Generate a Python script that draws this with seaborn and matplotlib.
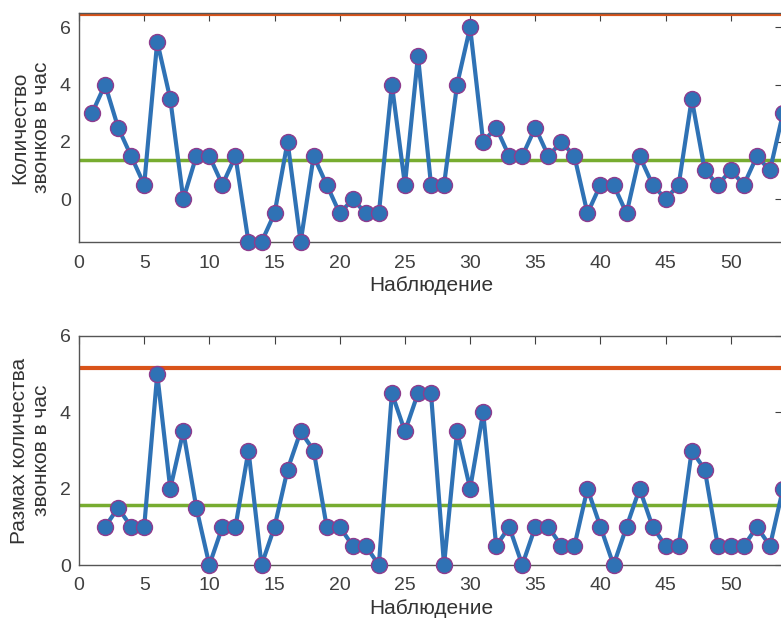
import numpy as np
import pandas as pd
import matplotlib
matplotlib.use("Agg")
import matplotlib.pyplot as plt
import seaborn as sns

# values
obs = list(range(1, 55))
calls = [3, 4, 2.5, 1.5, 0.5, 5.5, 3.5, 0, 1.5, 1.5,
         0.5, 1.5, -1.5, -1.5, -0.5, 2, -1.5, 1.5, 0.5, -0.5,
         0, -0.5, -0.5, 4, 0.5, 5, 0.5, 0.5, 4, 6,
         2, 2.5, 1.5, 1.5, 2.5, 1.5, 2, 1.5, -0.5, 0.5,
         0.5, -0.5, 1.5, 0.5, 0, 0.5, 3.5, 1, 0.5, 1,
         0.5, 1.5, 1, 3]
mr_obs = list(range(2, 55))
moving_range = [1, 1.5, 1, 1, 5, 2, 3.5, 1.5, 0, 1,
                1, 3, 0, 1, 2.5, 3.5, 3, 1, 1, 0.5,
                0.5, 0, 4.5, 3.5, 4.5, 4.5, 0, 3.5, 2, 4,
                0.5, 1, 0, 1, 1, 0.5, 0.5, 2, 1, 0,
                1, 2, 1, 0.5, 0.5, 3, 2.5, 0.5, 0.5, 0.5,
                1, 0.5, 2]
x_center, x_ucl = 1.36, 6.48
mr_center, mr_ucl = 1.57, 5.16
xticks = list(range(0, 55, 5))

sns.set_style("white")
plt.rcParams['font.family'] = ['Liberation Sans', 'DejaVu Sans']

blue = "#2f72b5"
orange = "#d95319"
green = "#77ac30"
edge = "#8e3c8e"

W, H = 781, 619
fig = plt.figure(figsize=(W / 100, H / 100), dpi=100)
ax1 = fig.add_axes([79 / W, 1 - 242 / H, (783 - 79) / W, (242 - 13) / H])
ax2 = fig.add_axes([79 / W, 1 - 565 / H, (783 - 79) / W, (565 - 336) / H])

panels = [
    (ax1, obs, calls, x_center, x_ucl, (-1.5, 6.5), "Количество\nзвонков в час"),
    (ax2, mr_obs, moving_range, mr_center, mr_ucl, (0, 6), "Размах количества\nзвонков в час"),
]
for ax, xs, ys, cl, ucl, ylim, ylab in panels:
    df = pd.DataFrame({"x": xs, "y": ys})
    ax.axhline(ucl, color=orange, lw=3, zorder=1)
    ax.axhline(cl, color=green, lw=2.5, zorder=1)
    sns.lineplot(data=df, x="x", y="y", ax=ax, color=blue, linewidth=3,
                 marker="o", markersize=11.5, markerfacecolor=blue,
                 markeredgecolor=edge, markeredgewidth=1, clip_on=False, zorder=3)
    ax.set_xlim(0, 54)
    ax.set_ylim(*ylim)
    ax.set_xticks(xticks)
    ax.set_yticks([0, 2, 4, 6])
    ax.tick_params(direction="in", length=6, labelsize=14, colors="#404040",
                   top=True, right=True, pad=6)
    ax.tick_params(axis="x", pad=9)
    for s in ax.spines.values():
        s.set_color("#555555")
        s.set_linewidth(1)
    ax.set_xlabel("Наблюдение", fontsize=15, color="#333333", labelpad=3)
    ax.set_ylabel(ylab, fontsize=15, color="#333333", labelpad=6)

fig.savefig("out.png", dpi=100)
